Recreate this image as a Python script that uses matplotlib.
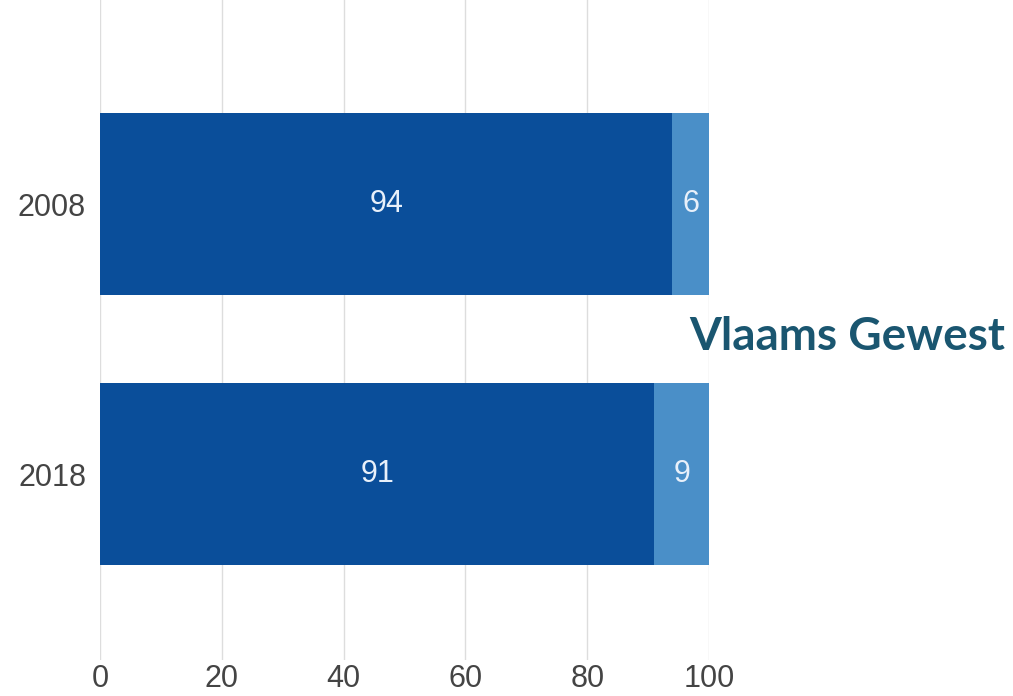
import matplotlib
matplotlib.use('Agg')
import matplotlib.pyplot as plt
import numpy as np

# data
years = ['2008', '2018']
share_a = [94, 91]
share_b = [6, 9]
xticks = [0, 20, 40, 60, 80, 100]
title = 'Vlaams Gewest'

dark_blue = '#0a4e9a'
light_blue = '#4a8fc8'

fig = plt.figure(figsize=(10.13, 6.96), dpi=100)
ax = fig.add_axes([100/1013, 36/696, 609/1013, 660/696])

ypos = np.arange(len(years))
h = 0.674
ax.barh(ypos, share_a, height=h, color=dark_blue, zorder=3)
ax.barh(ypos, share_b, left=share_a, height=h, color=light_blue, zorder=3)

# value labels inside the segments
for i in range(len(years)):
    ax.text(share_a[i] / 2, ypos[i], str(share_a[i]), ha='center', va='center',
            color='#e8f0fa', fontsize=22, family='Liberation Sans', zorder=4)
    ax.text(share_a[i] + share_b[i] / 2, ypos[i], str(share_b[i]), ha='center', va='center',
            color='#e8f0fa', fontsize=22, family='Liberation Sans', zorder=4)

ax.set_xlim(0, 100)
ax.set_ylim(1.689, -0.756)
ax.set_yticks(ypos)
ax.set_yticklabels(years)
ax.set_xticks(xticks)
ax.tick_params(axis='y', length=0, labelsize=22, labelcolor='#444444', pad=10)
ax.tick_params(axis='x', length=0, labelsize=22, labelcolor='#444444', pad=3)
for lab in ax.get_xticklabels() + ax.get_yticklabels():
    lab.set_family('Liberation Sans')
ax.grid(axis='x', color='#dddddd', linewidth=1, zorder=0)
for s in ax.spines.values():
    s.set_visible(False)

fig.text(1005/1013, 1 - 337/696, title, ha='right', va='center',
         fontsize=33, fontweight='bold', family='Lato', color='#1a5670')

fig.savefig('out.png', dpi=100)
